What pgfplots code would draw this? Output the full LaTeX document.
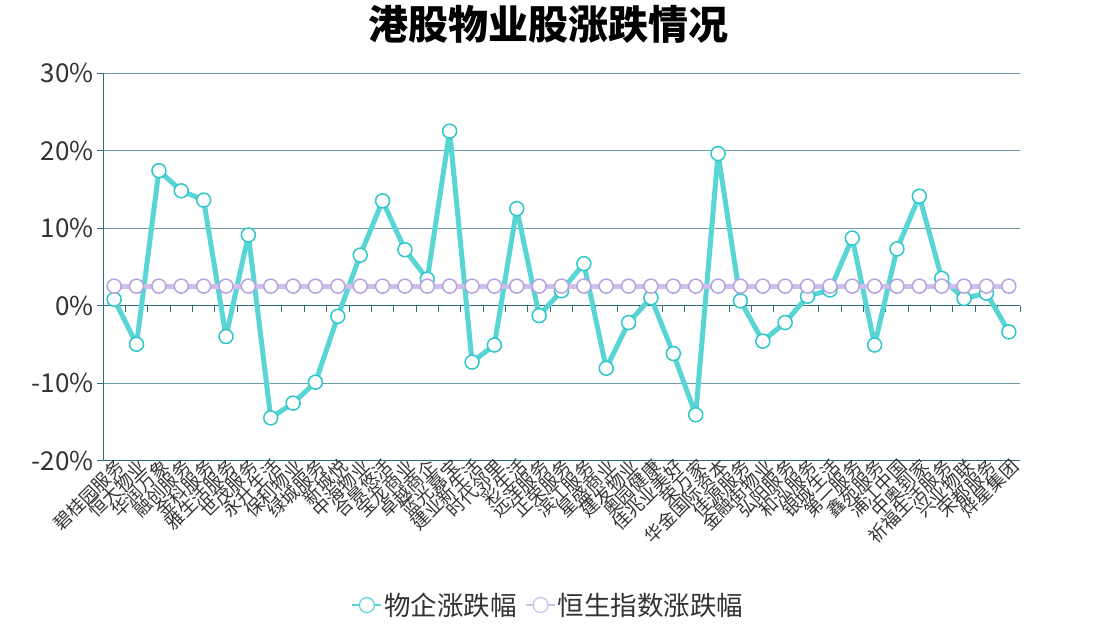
\documentclass[border=0pt]{standalone}
\usepackage{fontspec}
\setmainfont{Noto Sans CJK SC}
\usepackage{pgfplots}
\pgfplotsset{compat=1.18}
\definecolor{c1}{HTML}{5AD5D6}
\definecolor{c1m}{HTML}{2EC7C9}
\definecolor{c2}{HTML}{B6A2DE}
\definecolor{c2l}{HTML}{CDBFEA}
\definecolor{axc}{HTML}{2F6F77}
\definecolor{gridc}{HTML}{6A9EA3}
\definecolor{txt}{HTML}{333333}
\begin{document}
\begin{tikzpicture}[x=1pt,y=1pt]
\useasboundingbox (0,0) rectangle (1094,625);
\node[font=\fontsize{40}{40}\bfseries\selectfont, text=black] at (548,601) {港股物业股涨跌情况};
\begin{axis}[at={(103pt,164.5pt)}, anchor=south west, scale only axis,
  width=917pt, height=387.5pt,
  xmin=-0.5, xmax=40.5, ymin=-20, ymax=30, clip=false,
  axis y line*=left, axis x line*=bottom,
  axis line style={axc, line width=1pt},
  xtick={0,...,40},
  xticklabels={碧桂园服务,恒大物业,华润万象,融创服务,金科服务,雅生活服务,世茂服务,永升生活,保利物业,绿城服务,新城悦,中海物业,合景悠活,宝龙商业,卓越商企,蓝光嘉宝,建业新生活,时代邻里,彩生活,远洋服务,正荣服务,滨江服务,星盛商业,建发物业,奥园健康,佳兆业美好,荣万家,华金国际资本,佳源服务,金融街物业,弘阳服务,和泓服务,银城生活,第一服务,鑫苑服务,浦江中国,中奥到家,祈福生活服务,兴业物联,宋都服务,烨星集团},
  xticklabel style={rotate=45, anchor=east, font=\fontsize{18}{18}\selectfont, text=txt, inner sep=1pt, xshift=8pt, yshift=-2pt},
  major x tick style={draw=none},
  ytick={-20,-10,0,10,20,30},
  yticklabels={-20\%,-10\%,0\%,10\%,20\%,30\%},
  yticklabel style={font=\fontsize{26}{26}\selectfont, text=txt},
  ytick style={axc, line width=1pt},
  tick align=outside, major tick length=6pt,
  ymajorgrids, grid style={gridc, line width=0.8pt},
  legend style={at={(0.5,-0.373)}, anchor=center, draw=none, legend columns=2,
    font=\fontsize{26.5}{26.5}\selectfont, text=txt, xshift=-13pt,
    nodes={inner sep=2pt},
    /tikz/every even column/.append style={column sep=7pt}},
  legend image code/.code={\draw[#1, line width=1.2pt] (0pt,0pt) -- (29pt,0pt);
    \draw[#1, line width=1.2pt, fill=white] (14.5pt,0pt) circle (7.5pt);},
]
\draw[axc, line width=1pt] (axis cs:-0.5,0) -- (axis cs:40.5,0);
\pgfplotsinvokeforeach{-0.5,0.5,...,40.5}{\draw[axc, line width=1pt] (axis cs:#1,0) -- ++(0pt,-6pt);}
\addplot[c1, line width=5pt, line join=round, mark=*, mark size=7pt, mark options={fill=white, draw=c1m, line width=1.5pt}]
coordinates {(0,0.8)(1,-5.0)(2,17.4)(3,14.8)(4,13.6)(5,-4.0)(6,9.1)(7,-14.5)(8,-12.6)(9,-9.9)(10,-1.4)(11,6.5)(12,13.5)(13,7.2)(14,3.4)(15,22.5)(16,-7.3)(17,-5.1)(18,12.5)(19,-1.3)(20,1.9)(21,5.4)(22,-8.1)(23,-2.2)(24,1.0)(25,-6.2)(26,-14.1)(27,19.6)(28,0.6)(29,-4.6)(30,-2.2)(31,1.2)(32,2.0)(33,8.7)(34,-5.1)(35,7.3)(36,14.1)(37,3.5)(38,0.9)(39,1.6)(40,-3.4)};
\addlegendentry{物企涨跌幅}
\addplot[c2l, line width=5pt, line join=round, mark=*, mark size=7pt, mark options={fill=white, draw=c2, line width=1.5pt}]
coordinates {(0,2.5)(1,2.5)(2,2.5)(3,2.5)(4,2.5)(5,2.5)(6,2.5)(7,2.5)(8,2.5)(9,2.5)(10,2.5)(11,2.5)(12,2.5)(13,2.5)(14,2.5)(15,2.5)(16,2.5)(17,2.5)(18,2.5)(19,2.5)(20,2.5)(21,2.5)(22,2.5)(23,2.5)(24,2.5)(25,2.5)(26,2.5)(27,2.5)(28,2.5)(29,2.5)(30,2.5)(31,2.5)(32,2.5)(33,2.5)(34,2.5)(35,2.5)(36,2.5)(37,2.5)(38,2.5)(39,2.5)(40,2.5)};
\addlegendentry{恒生指数涨跌幅}
\end{axis}
\end{tikzpicture}
\end{document}
